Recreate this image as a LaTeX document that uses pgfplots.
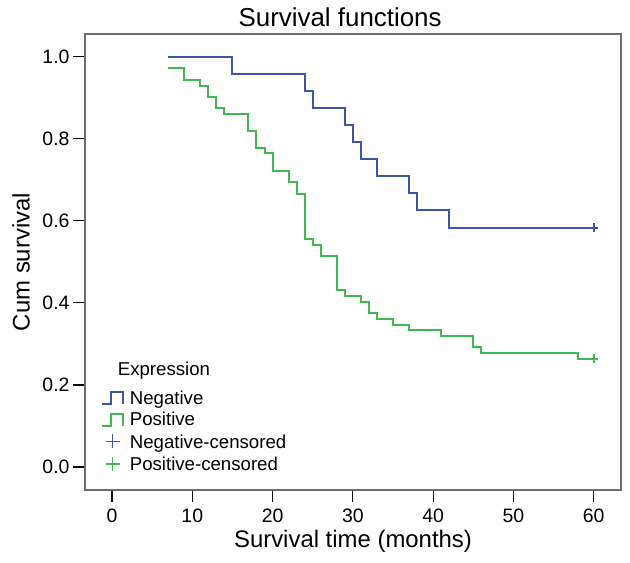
\documentclass[border=0pt]{standalone}
\usepackage{fontspec}
\setmainfont{Liberation Sans}
\usepackage{pgfplots}
\pgfplotsset{compat=1.18}
\definecolor{negblue}{RGB}{62,86,168}
\definecolor{posgreen}{RGB}{66,184,80}
\definecolor{axgray}{RGB}{110,110,110}
\pgfplotsset{
  steplegend/.style={legend image code/.code={\draw[##1] (0bp,-5bp) -- (9bp,-5bp) -- (9bp,7bp) -- (21bp,7bp) -- (21bp,-5bp);}},
  pluslegend/.style={legend image code/.code={\draw[##1, draw=#1, line width=1.8bp] (3.5bp,1.7bp) -- (17.5bp,1.7bp) (10.5bp,-5.3bp) -- (10.5bp,8.7bp);}},
}
\begin{document}
\begin{tikzpicture}
\begin{axis}[
    scale only axis,
    width=536bp, height=456bp,
    xmin=-3.36, xmax=63.4,
    ymin=-0.056, ymax=1.055,
    xtick={0,10,20,30,40,50,60},
    ytick={0,0.2,0.4,0.6,0.8,1.0},
    y tick label style={/pgf/number format/.cd, fixed, fixed zerofill, precision=1},
    x tick label style={yshift=-3bp},
    /pgf/number format/assume math mode=true,
    tick pos=left, tick align=outside,
    major tick length=12bp,
    tick style={black, line width=1.2bp},
    axis line style={axgray, line width=1.2bp},
    tick label style={font=\fontsize{19.5}{20}\selectfont},
    title={Survival functions},
    every axis title shift=0pt,
    title style={at={(axis description cs:0.476,1.0362)}, anchor=center, font=\fontsize{26}{28}\selectfont},
    xlabel={Survival time (months)},
    xlabel style={at={(axis description cs:0.5,-0.1118)}, anchor=center, font=\fontsize{24}{26}\selectfont},
    ylabel={Cum survival},
    ylabel style={at={(axis description cs:-0.1194,0.5)}, anchor=center, font=\fontsize{24}{26}\selectfont},
    legend style={at={(axis description cs:0.03,0.283)}, anchor=north west,
        draw=none, fill=none, inner sep=0pt, row sep=3.7bp, column sep=6bp,
        font=\fontsize{18.7}{20}\selectfont,
        nodes={inner sep=0pt, text height=14bp, text depth=4bp}},
    legend cell align=left,
]
% Negative
\addplot[const plot, negblue, line width=2bp, forget plot] coordinates {
(7,1.0) (15,0.958) (24,0.917) (25,0.875) (29,0.833) (30,0.792) (31,0.750)
(33,0.708) (37,0.667) (38,0.625) (42,0.583) (60,0.583)
};
% Positive
\addplot[const plot, posgreen, line width=2bp, forget plot] coordinates {
(7,0.972) (9,0.944) (11,0.929) (12,0.902) (13,0.874) (14,0.861) (17,0.819)
(18,0.777) (19,0.764) (20,0.722) (22,0.694) (23,0.666) (24,0.556) (25,0.541)
(26,0.514) (28,0.431) (29,0.417) (31,0.403) (32,0.375) (33,0.361) (35,0.347)
(37,0.334) (41,0.320) (45,0.292) (46,0.278) (58,0.264) (60,0.264)
};
% censored
\addplot[only marks, mark=+, mark size=4.5bp, mark options={draw=negblue, line width=2bp}, forget plot] coordinates {(60,0.583)};
\addplot[only marks, mark=+, mark size=4.5bp, mark options={draw=posgreen, line width=2bp}, forget plot] coordinates {(60,0.264)};

\addlegendimage{empty legend}
\addlegendentry[text depth=11.3bp]{\hspace*{-12bp}Expression}
\addlegendimage{steplegend, negblue, line width=1.6bp}
\addlegendentry{Negative}
\addlegendimage{steplegend, posgreen, line width=1.6bp}
\addlegendentry{Positive}
\addlegendimage{pluslegend=negblue}
\addlegendentry{Negative-censored}
\addlegendimage{pluslegend=posgreen}
\addlegendentry{Positive-censored}

\coordinate (bl) at (rel axis cs:0,0);
\coordinate (tr) at (rel axis cs:1,1);
\end{axis}
\pgfresetboundingbox
\path ([shift={(-85bp,-73bp)}]bl) rectangle ([shift={(9bp,34bp)}]tr);
\end{tikzpicture}
\end{document}
